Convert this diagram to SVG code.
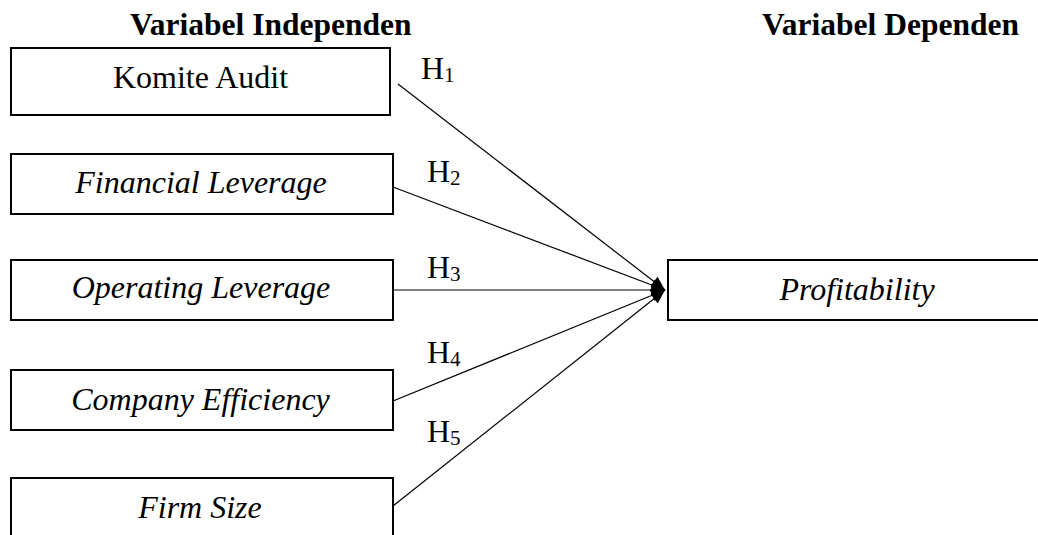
<svg xmlns="http://www.w3.org/2000/svg" width="1038" height="535" viewBox="0 0 1038 535">
  <style>
    .box { fill: #ffffff; stroke: #000000; stroke-width: 2; }
    .t { font-family: "Liberation Serif", "Times New Roman", serif; font-size: 32px; fill: #000000; text-anchor: middle; }
    .it { font-style: italic; }
    .title { font-family: "Liberation Serif", "Times New Roman", serif; font-size: 31.5px; font-weight: bold; fill: #000000; }
    .h { font-family: "Liberation Serif", "Times New Roman", serif; font-size: 32px; fill: #000000; }
    .sub { font-size: 21px; }
    .conn { stroke: #000000; stroke-width: 1.2; fill: none; marker-end: url(#arr); }
  </style>
  <defs>
    <marker id="arr" markerUnits="userSpaceOnUse" markerWidth="16" markerHeight="14" refX="14" refY="6.5" orient="auto">
      <path d="M0,0.5 L14,6.5 L0,12.5 z" fill="#000000"/>
    </marker>
  </defs>
  <rect width="1038" height="535" fill="#ffffff"/>

  <g id="titles">
    <text class="title" x="130" y="35">Variabel Independen</text>
    <text class="title" x="762" y="35">Variabel Dependen</text>
  </g>

  <g id="connectors">
    <line class="conn" x1="398" y1="84" x2="665" y2="290"/>
    <line class="conn" x1="393" y1="187" x2="665" y2="290"/>
    <line class="conn" x1="393" y1="290" x2="665" y2="290"/>
    <line class="conn" x1="393" y1="401" x2="665" y2="290"/>
    <line class="conn" x1="393" y1="506" x2="665" y2="290"/>
  </g>

  <g id="labels">
    <text class="h" x="421" y="79">H<tspan class="sub" dy="3">1</tspan></text>
    <text class="h" x="427" y="182">H<tspan class="sub" dy="3">2</tspan></text>
    <text class="h" x="427" y="278">H<tspan class="sub" dy="3">3</tspan></text>
    <text class="h" x="427" y="363">H<tspan class="sub" dy="3">4</tspan></text>
    <text class="h" x="427" y="442">H<tspan class="sub" dy="3">5</tspan></text>
  </g>

  <g id="node-komite-audit">
    <rect class="box" x="11" y="48" width="379" height="67"/>
    <text class="t" x="200.5" y="88">Komite Audit</text>
  </g>
  <g id="node-financial-leverage">
    <rect class="box" x="11" y="154" width="382" height="60"/>
    <text class="t it" x="201" y="193">Financial Leverage</text>
  </g>
  <g id="node-operating-leverage">
    <rect class="box" x="11" y="260" width="382" height="60"/>
    <text class="t it" x="201" y="298">Operating Leverage</text>
  </g>
  <g id="node-company-efficiency">
    <rect class="box" x="11" y="370" width="382" height="60"/>
    <text class="t it" x="200.5" y="410">Company Efficiency</text>
  </g>
  <g id="node-firm-size">
    <rect class="box" x="11" y="478" width="382" height="70"/>
    <text class="t it" x="200" y="518">Firm Size</text>
  </g>
  <g id="node-profitability">
    <rect class="box" x="668" y="260" width="390" height="60"/>
    <text class="t it" x="857" y="300">Profitability</text>
  </g>
</svg>
